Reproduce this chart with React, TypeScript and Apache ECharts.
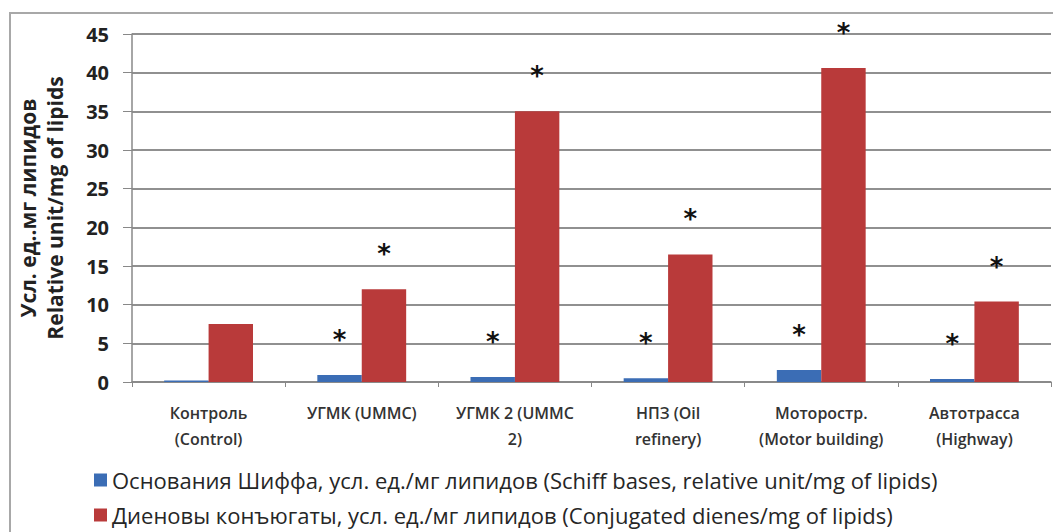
import React, { useEffect, useRef } from "react";
import * as echarts from "echarts";

const categories = [
  "Контроль\n(Control)",
  "УГМК (UMMC)",
  "УГМК 2 (UMMC\n2)",
  "НПЗ (Oil\nrefinery)",
  "Моторостр.\n(Motor building)",
  "Автотрасса\n(Highway)",
];
const schiffName = "Основания Шиффа, усл. ед./мг липидов (Schiff bases, relative unit/mg of lipids)";
const dienesName = "Диеновы конъюгаты, усл. ед./мг липидов (Conjugated dienes/mg of lipids)";
const schiffValues = [0.2, 0.9, 0.65, 0.5, 1.55, 0.4];
const dienesValues = [7.5, 12, 35, 16.5, 40.6, 10.4];
const schiffSignificant = [false, true, true, true, true, true];
const dienesSignificant = [false, true, true, true, true, true];
const yTicks = [0, 5, 10, 15, 20, 25, 30, 35, 40, 45];
const yAxisTitle = "Усл. ед..мг липидов\nRelative unit/mg of lipids";

const FONT = "'Open Sans', 'Noto Sans', sans-serif";

export default function App() {
  const ref = useRef<HTMLDivElement>(null);
  useEffect(() => {
    if (!ref.current) return;
    const chart = echarts.init(ref.current, undefined, { renderer: "svg" });
    const starLabel = (flag: boolean) => ({
      show: flag,
      position: "top",
      formatter: "*",
      fontSize: 26,
      fontWeight: "bold",
      color: "#111",
      distance: 22,
      fontFamily: "DejaVu Sans",
    });
    const legendText = { fontFamily: FONT, fontSize: 22, color: "#262626", lineHeight: 22 };
    chart.setOption({
      animation: false,
      backgroundColor: "#ffffff",
      graphic: [
        {
          type: "rect",
          shape: { x: 10, y: 13, width: 1060, height: 540 },
          style: { fill: "none", stroke: "#a8a8a8", lineWidth: 2 },
          silent: true,
          z: -1,
        },
      ],
      grid: { left: 132, right: 2, top: 34, bottom: 150 },
      legend: [
        {
          left: 94,
          top: 469,
          padding: 0,
          itemWidth: 13,
          itemHeight: 13,
          itemGap: 7,
          icon: "rect",
          textStyle: legendText,
          data: [schiffName],
        },
        {
          left: 94,
          top: 504,
          padding: 0,
          itemWidth: 13,
          itemHeight: 13,
          itemGap: 7,
          icon: "rect",
          textStyle: legendText,
          data: [dienesName],
        },
      ],
      xAxis: {
        type: "category",
        data: categories,
        axisLine: { lineStyle: { color: "#888", width: 1.5 } },
        axisTick: { show: true, length: 5, lineStyle: { color: "#888" } },
        axisLabel: {
          fontFamily: FONT,
          fontSize: 16,
          fontWeight: 600,
          color: "#333",
          lineHeight: 26,
          margin: 18,
          interval: 0,
        },
      },
      yAxis: {
        type: "value",
        min: 0,
        max: yTicks[yTicks.length - 1],
        interval: yTicks[1] - yTicks[0],
        name: yAxisTitle,
        nameLocation: "middle",
        nameRotate: 90,
        nameGap: 64,
        nameTextStyle: {
          fontFamily: FONT,
          fontSize: 21,
          fontWeight: "bold",
          color: "#222",
          lineHeight: 27,
        },
        axisLine: { show: true, lineStyle: { color: "#888", width: 1.5 } },
        axisTick: { show: true, length: 9, lineStyle: { color: "#888" } },
        splitLine: { lineStyle: { color: "#909090", width: 2 } },
        axisLabel: {
          fontFamily: FONT,
          fontSize: 20,
          fontWeight: "bold",
          color: "#222",
          margin: 23,
        },
      },
      series: [
        {
          name: schiffName,
          type: "bar",
          barGap: "0%",
          barCategoryGap: "42%",
          itemStyle: { color: "#3b6db5" },
          data: schiffValues.map((v, i) => ({ value: v, label: starLabel(schiffSignificant[i]) })),
        },
        {
          name: dienesName,
          type: "bar",
          itemStyle: { color: "#b93a3a" },
          data: dienesValues.map((v, i) => ({ value: v, label: starLabel(dienesSignificant[i]) })),
        },
      ],
    });
    return () => chart.dispose();
  }, []);
  return (
    <div
      ref={ref}
      style={{ position: "fixed", left: 0, top: 0, width: 1053, height: 532 }}
    />
  );
}
